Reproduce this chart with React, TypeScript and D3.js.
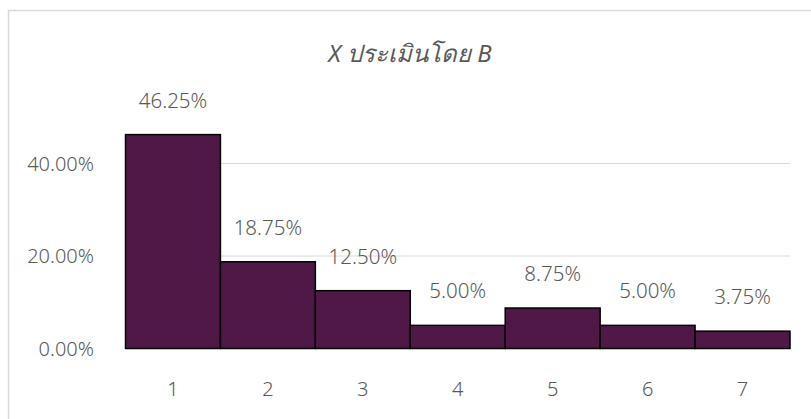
import React, { useEffect, useRef } from 'react';
import * as d3 from 'd3';

const categories = ['1', '2', '3', '4', '5', '6', '7'];
const values = [46.25, 18.75, 12.5, 5.0, 8.75, 5.0, 3.75];
const yTicks = [0, 20, 40];
const title = 'X ประเมินโดย B';

const width = 811;
const height = 419;
const margin = { top: 0, right: 21, bottom: 70.5, left: 125.5 };
const font = "'Noto Sans', sans-serif";
const textColor = '#595959';

const App: React.FC = () => {
  const svgRef = useRef<SVGSVGElement>(null);

  useEffect(() => {
    if (!svgRef.current) return;
    const svg = d3.select(svgRef.current);
    svg.selectAll('*').remove();

    // chart frame
    svg.append('rect')
      .attr('x', 8.5)
      .attr('y', 10.5)
      .attr('width', 830)
      .attr('height', 430)
      .attr('fill', '#fff')
      .attr('stroke', '#d9d9d9')
      .attr('stroke-width', 1.5);

    const x = d3.scaleBand()
      .domain(categories)
      .range([margin.left, width - margin.right])
      .padding(0);

    const y = d3.scaleLinear()
      .domain([0, 50])
      .range([height - margin.bottom, height - margin.bottom - 231.25]);

    // gridlines
    svg.append('g')
      .selectAll('line')
      .data(yTicks)
      .join('line')
      .attr('x1', margin.left)
      .attr('x2', width - margin.right)
      .attr('y1', (d) => y(d))
      .attr('y2', (d) => y(d))
      .attr('stroke', '#d9d9d9')
      .attr('stroke-width', 1.2);

    // y labels
    svg.append('g')
      .selectAll('text')
      .data(yTicks)
      .join('text')
      .attr('x', 94)
      .attr('y', (d) => y(d))
      .attr('dy', '0.35em')
      .attr('text-anchor', 'end')
      .attr('font-family', font)
      .attr('font-size', 20)
      .attr('font-weight', 300)
      .attr('fill', textColor)
      .text((d) => `${d.toFixed(2)}%`);

    // bars
    svg.append('g')
      .selectAll('rect')
      .data(values)
      .join('rect')
      .attr('x', (_, i) => x(categories[i])!)
      .attr('y', (d) => y(d))
      .attr('width', x.bandwidth())
      .attr('height', (d) => y(0) - y(d))
      .attr('fill', '#501847')
      .attr('stroke', '#000')
      .attr('stroke-width', 1.5);

    // data labels
    svg.append('g')
      .selectAll('text')
      .data(values)
      .join('text')
      .attr('x', (_, i) => x(categories[i])! + x.bandwidth() / 2)
      .attr('y', (d) => y(d) - 27)
      .attr('text-anchor', 'middle')
      .attr('font-family', font)
      .attr('font-size', 20.5)
      .attr('font-weight', 300)
      .attr('fill', textColor)
      .text((d) => `${d.toFixed(2)}%`);

    // category labels
    svg.append('g')
      .selectAll('text')
      .data(categories)
      .join('text')
      .attr('x', (d) => x(d)! + x.bandwidth() / 2)
      .attr('y', 396)
      .attr('text-anchor', 'middle')
      .attr('font-family', font)
      .attr('font-size', 20)
      .attr('font-weight', 300)
      .attr('fill', textColor)
      .text((d) => d);

    // title
    svg.append('text')
      .attr('x', 410)
      .attr('y', 62)
      .attr('text-anchor', 'middle')
      .attr('font-family', font)
      .attr('font-size', 24)
      .attr('font-style', 'italic')
      .attr('fill', textColor)
      .text(title);
  }, []);

  return (
    <svg
      ref={svgRef}
      width={width}
      height={height}
      style={{ position: 'absolute', left: 0, top: 0, display: 'block' }}
    />
  );
};

export default App;
